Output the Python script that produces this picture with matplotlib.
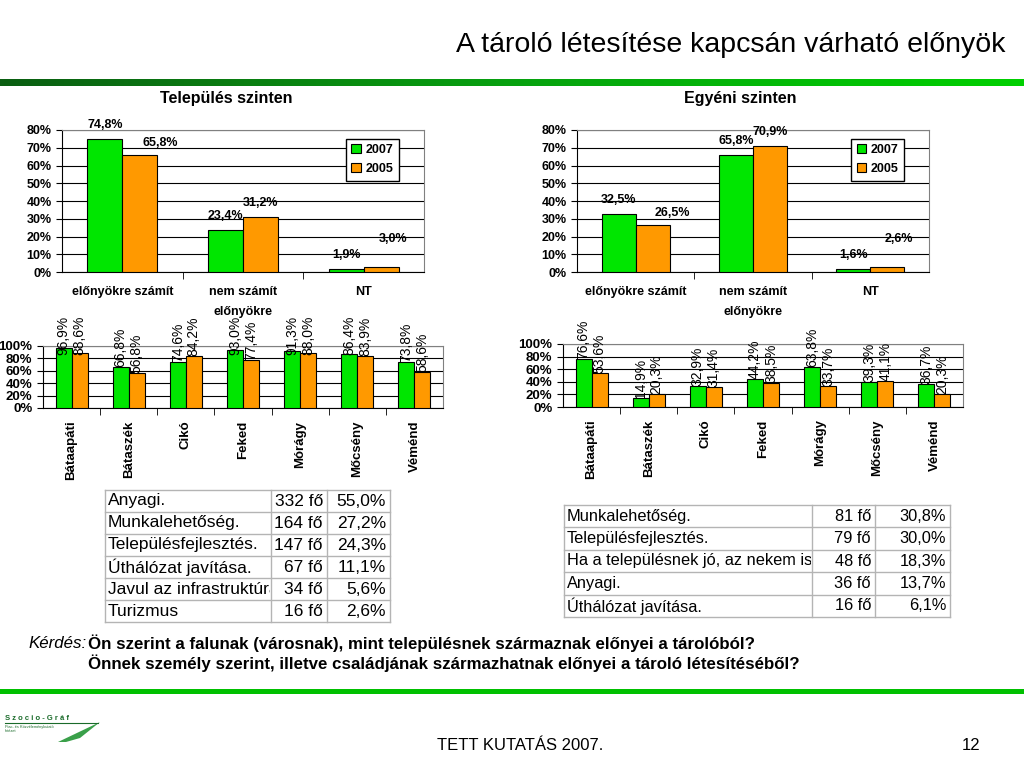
import numpy as np
import matplotlib
import matplotlib.pyplot as plt
from matplotlib.patches import Rectangle, Polygon
from matplotlib.transforms import Bbox, TransformedBbox

matplotlib.use('Agg')

# adatok
cats_big = ['előnyökre számít', 'nem számít\nelőnyökre', 'NT']
telep_2007 = [74.8, 23.4, 1.9]
telep_2005 = [65.8, 31.2, 3.0]
egyeni_2007 = [32.5, 65.8, 1.6]
egyeni_2005 = [26.5, 70.9, 2.6]

towns = ['Bátaapáti', 'Bátaszék', 'Cikó', 'Feked', 'Mórágy', 'Mőcsény', 'Véménd']
telep_town_2007 = [96.9, 66.8, 74.6, 93.0, 91.3, 86.4, 73.8]
telep_town_2005 = [88.6, 56.8, 84.2, 77.4, 88.0, 83.9, 58.6]
egyeni_town_2007 = [76.6, 14.9, 32.9, 44.2, 63.8, 39.3, 36.7]
egyeni_town_2005 = [53.6, 20.3, 31.4, 38.5, 33.7, 41.1, 20.3]

t1_labels = ['Anyagi.', 'Munkalehetőség.', 'Településfejlesztés.', 'Úthálózat javítása.',
             'Javul az infrastruktúra.', 'Turizmus']
t1_counts = [332, 164, 147, 67, 34, 16]
t1_pct = [55.0, 27.2, 24.3, 11.1, 5.6, 2.6]

t2_labels = ['Munkalehetőség.', 'Településfejlesztés.', 'Ha a településnek jó, az nekem is.',
             'Anyagi.', 'Úthálózat javítása.']
t2_counts = [81, 79, 48, 36, 16]
t2_pct = [30.8, 30.0, 18.3, 13.7, 6.1]

GREEN = '#00e600'
ORANGE = '#ff9900'
ARIAL = ['Liberation Sans', 'DejaVu Sans']
NARROW = ['Liberation Sans Narrow', 'Liberation Sans', 'DejaVu Sans']
plt.rcParams['font.family'] = ARIAL

W, H = 1024, 768
fig = plt.figure(figsize=(10.24, 7.68), dpi=100)

# hatter reteg pixel koordinatakkal
ov = fig.add_axes([0, 0, 1, 1])
ov.set_xlim(0, W)
ov.set_ylim(H, 0)
ov.axis('off')


def px_axes(l, t, r, b):
    return fig.add_axes([l / W, 1 - b / H, (r - l) / W, (b - t) / H])


def pct(v):
    return f'{v:.1f}%'.replace('.', ',')


# fejlec, zold csikok
grad = np.linspace(0, 1, 256).reshape(1, -1)
cmap = matplotlib.colors.LinearSegmentedColormap.from_list('g', ['#0b5e12', '#07a10f', '#00d000'])
ov.imshow(grad, cmap=cmap, extent=(0, W, 86, 79), aspect='auto')
ov.add_patch(Rectangle((0, 689), W, 5, color='#00c000', lw=0))
ov.set_xlim(0, W)
ov.set_ylim(H, 0)

ov.text(1005, 45, 'A tároló létesítése kapcsán várható előnyök', ha='right', va='center',
        fontsize=20.5, family=NARROW)
ov.text(437, 745, 'TETT KUTATÁS 2007.', ha='left', va='center', fontsize=12, family=NARROW)
ov.text(980, 745, '12', ha='right', va='center', fontsize=12, family=NARROW)

# logo
ov.text(5, 718, 'S z o c i o - G r á f', fontsize=5.5, fontweight='bold', color='#1a6b2a',
        va='center', family=ARIAL)
ov.plot([5, 98], [723, 723], color='#1a6b2a', lw=0.8)
ov.text(5, 729, 'Piac- és Közvéleménykutató\nIntézet', fontsize=2.8, color='#1a6b2a',
        va='center', family=ARIAL, linespacing=1.1)
ov.add_patch(Polygon([[58, 742], [100, 722], [80, 738], [66, 742]], color='#3aa04a', lw=0))

# kerdes
ov.text(28, 643, 'Kérdés:', fontsize=12.2, style='italic', va='center', family=NARROW)
ov.text(88, 643, 'Ön szerint a falunak (városnak), mint településnek származnak előnyei a tárolóból?',
        fontsize=12.2, fontweight='bold', va='center', family=NARROW)
ov.text(88, 663, 'Önnek személy szerint, illetve családjának származhatnak előnyei a tároló létesítéséből?',
        fontsize=12.2, fontweight='bold', va='center', family=NARROW)


def style_axes(ax, n):
    for s in ['left', 'bottom']:
        ax.spines[s].set_color('black')
    for s in ['top', 'right']:
        ax.spines[s].set_color('#808080')
    ax.yaxis.grid(True, color='black', lw=0.8)
    ax.set_axisbelow(True)
    ax.set_xlim(-0.5, n - 0.5)
    ax.set_xticks(np.arange(n))
    ax.set_xticks(np.arange(n - 1) + 0.5, minor=True)
    ax.tick_params(axis='x', which='major', length=0)
    ax.tick_params(axis='x', which='minor', length=5, direction='out')
    ax.tick_params(axis='y', length=4, direction='out')


# nagy diagramok
LABEL_NUDGE_2005 = [(20, 12), (0, 14), (12, 28)]


def big_chart(l, r, title, title_x, v07, v05):
    ax = px_axes(l, 130, r, 272)
    x = np.arange(len(cats_big))
    w = 0.29
    ax.bar(x - w / 2, v07, w, color=GREEN, edgecolor='black', lw=0.8, zorder=3, label='2007')
    ax.bar(x + w / 2, v05, w, color=ORANGE, edgecolor='black', lw=0.8, zorder=3, label='2005')
    ax.set_ylim(0, 80)
    style_axes(ax, len(cats_big))
    ax.set_yticks(range(0, 81, 10))
    ax.set_yticklabels([f'{t}%' for t in range(0, 81, 10)], fontsize=9, fontweight='bold')
    ax.set_xticklabels(cats_big, fontsize=9, fontweight='bold', linespacing=1.9)
    ax.tick_params(axis='x', which='major', pad=10)
    for i in range(len(x)):
        ax.annotate(pct(v07[i]), (x[i] - w / 2, v07[i]), xytext=(0, 14), textcoords='offset pixels',
                    ha='center', va='center', fontsize=9, fontweight='bold', zorder=5)
        dx, dy = LABEL_NUDGE_2005[i]
        ax.annotate(pct(v05[i]), (x[i] + w / 2, v05[i]), xytext=(dx, dy), textcoords='offset pixels',
                    ha='center', va='center', fontsize=9, fontweight='bold', zorder=5)
    leg = ax.legend(loc='upper right', bbox_to_anchor=(0.93, 0.94), borderaxespad=0,
                    prop={'weight': 'bold', 'size': 9}, fancybox=False, edgecolor='black',
                    framealpha=1, handlelength=0.75, handleheight=0.75, handletextpad=0.35,
                    borderpad=0.45, labelspacing=0.55)
    leg.get_frame().set_linewidth(1)
    ov.text(title_x, 98, title, ha='center', va='center', fontsize=11.5, fontweight='bold')
    return ax


big_chart(62, 424, 'Település szinten', 226, telep_2007, telep_2005)
big_chart(577, 929, 'Egyéni szinten', 740, egyeni_2007, egyeni_2005)


# kis diagramok telepulesenkent
def small_chart(l, t, r, b, v07, v05):
    ax = px_axes(l, t, r, b)
    x = np.arange(len(towns))
    w = 0.28
    ax.bar(x - w / 2, v07, w, color=GREEN, edgecolor='black', lw=0.8, zorder=3)
    ax.bar(x + w / 2, v05, w, color=ORANGE, edgecolor='black', lw=0.8, zorder=3)
    ax.set_ylim(0, 100)
    style_axes(ax, len(towns))
    ax.set_yticks(range(0, 101, 20))
    ax.set_yticklabels([f'{t}%' for t in range(0, 101, 20)], fontsize=9.5, fontweight='bold')
    ax.set_xticklabels(towns, rotation=90, fontsize=9.5, fontweight='bold')
    ax.tick_params(axis='x', which='major', pad=9)
    for i in range(len(x)):
        ax.text(x[i] - w / 2, min(v07[i], 85), pct(v07[i]), rotation=90, ha='center', va='bottom',
                fontsize=10, zorder=5, clip_on=False)
        ax.text(x[i] + w / 2, min(v05[i], 85), pct(v05[i]), rotation=90, ha='center', va='bottom',
                fontsize=10, zorder=5, clip_on=False)
    return ax


small_chart(43, 346, 443, 408, telep_town_2007, telep_town_2005)
small_chart(563, 344, 963, 407, egyeni_town_2007, egyeni_town_2005)


# tablazatok
def draw_table(left, top, cols, row_h, labels, counts, pcts, fs):
    n = len(labels)
    bottom = top + n * row_h
    for c in cols:
        ov.plot([c, c], [top, bottom], color='#b4b4b4', lw=1)
    for k in range(n + 1):
        ov.plot([cols[0], cols[-1]], [top + k * row_h, top + k * row_h], color='#b4b4b4', lw=1)
    for k in range(n):
        yc = top + (k + 0.5) * row_h
        box = TransformedBbox(Bbox.from_extents(cols[0], top + k * row_h, cols[1] - 1,
                                                top + (k + 1) * row_h), ov.transData)
        txt = ov.text(cols[0] + 3, yc, labels[k], ha='left', va='center', fontsize=fs)
        txt.set_clip_box(box)
        txt.set_clip_on(True)
        ov.text(cols[2] - 4, yc, f'{counts[k]} fő', ha='right', va='center', fontsize=fs)
        ov.text(cols[3] - 4, yc, pct(pcts[k]), ha='right', va='center', fontsize=fs)


draw_table(105, 490, [105, 271, 327, 390], 22, t1_labels, t1_counts, t1_pct, 12.5)
draw_table(564, 505, [564, 812, 875, 950], 22.4, t2_labels, t2_counts, t2_pct, 11.8)

fig.savefig('out.png', dpi=100)
